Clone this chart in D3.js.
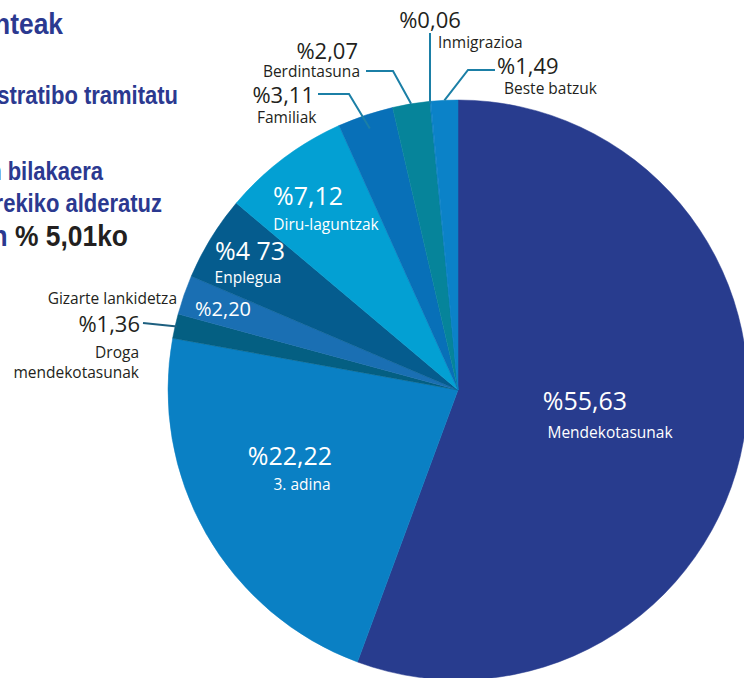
<!DOCTYPE html>
<html><head><meta charset="utf-8">
<script src="https://cdn.jsdelivr.net/npm/d3@7"></script>
<style>
body{margin:0;background:#fff;}
svg{display:block;}
</style></head>
<body>
<svg id="chart" width="744" height="678"></svg>
<script>
// ---- data ----
const categories = ["Mendekotasunak","3. adina","Droga mendekotasunak","Gizarte lankidetza","Enplegua","Diru-laguntzak","Familiak","Berdintasuna","Inmigrazioa","Beste batzuk"];
const values = [55.63,22.22,1.36,2.20,4.73,7.12,3.11,2.07,0.06,1.49];
const valueLabels = ["%55,63","%22,22","%1,36","%2,20","%4 73","%7,12","%3,11","%2,07","%0,06","%1,49"];
const colors = ["#283c8e","#0a80c4","#045f82","#1a6fb3","#055c8e","#03a0d3","#0870b8","#06849a","#0b7cc0","#0b82c8"];
const titleLines = ["nteak","stratibo tramitatu","n bilakaera","rekiko alderatuz","% 5,01ko"];

// ---- layout ----
const W=744,H=678, cx=458, cy=390, R=290;
const svg=d3.select("#chart");
const g=svg.append("g").attr("transform",`translate(${cx},${cy})`);
const data=categories.map((c,i)=>({cat:c,value:values[i],label:valueLabels[i],color:colors[i]}));
const pie=d3.pie().value(d=>d.value).sort(null).startAngle(0).endAngle(2*Math.PI);
const arcs=pie(data);
const arc=d3.arc().innerRadius(0).outerRadius(R);
g.selectAll("path.slice").data(arcs).join("path").attr("class","slice")
 .attr("d",arc).attr("fill",d=>d.data.color).attr("stroke",d=>d.data.color).attr("stroke-width",0.5);

const ff="'Open Sans','Noto Sans',sans-serif";
// inside labels: [index, pctX, pctY, pctSize, nameX, nameY, nameSize]
const inside=[
 [0,585,410,25,610,438,15.5],
 [1,290,465,25,302,490,15.5],
 [5,308,205,25,326,230,15.5],
 [4,250,260,25,248,283,15.5],
 [3,223,316,20,null,null,null]
];
inside.forEach(([i,px,py,ps,nx,ny,ns])=>{
  svg.append("text").attr("x",px).attr("y",py).attr("text-anchor","middle")
   .attr("font-family",ff).attr("font-size",ps).attr("fill","#fff").text(valueLabels[i]);
  if(nx!==null) svg.append("text").attr("x",nx).attr("y",ny).attr("text-anchor","middle")
   .attr("font-family",ff).attr("font-size",ns).attr("fill","#fff").text(categories[i]);
});

// outside labels with leaders
function arcPoint(i,r){const a=(arcs[i].startAngle+arcs[i].endAngle)/2;return [cx+r*Math.sin(a),cy-r*Math.cos(a)];}
const lineCol="#1b7fa6";
const outside=[
 {i:2,pts:[[143,323]],r:288,col:"#1d5f7f",pct:[140,332,"end",22],names:[[177,304,"end","Gizarte lankidetza"],[139,358,"end","Droga"],[139,378,"end","mendekotasunak"]]},
 {i:6,pts:[[318,94],[349,94]],r:276,col:lineCol,pct:[314,103,"end",22],names:[[257,123,"start","Familiak"]]},
 {i:7,pts:[[366,71],[393,71]],r:290,col:lineCol,pct:[358,59,"end",22],names:[[360,77,"end","Berdintasuna"]]},
 {i:8,pts:[[430,33]],r:288,col:lineCol,pct:[430,28,"middle",22],names:[[438,48,"start","Inmigrazioa"]]},
 {i:9,pts:[[495,70],[468,70]],r:290,col:lineCol,pct:[497,74,"start",22],names:[[504,94,"start","Beste batzuk"]]}
];
outside.forEach(o=>{
  const p=arcPoint(o.i,o.r);
  const ptsAll=o.pts.concat([p]);
  if(o.i===8){ptsAll[1]=[o.pts[0][0],p[1]];}
  svg.append("path").attr("d",d3.line()(ptsAll)).attr("fill","none").attr("stroke",o.col).attr("stroke-width",2);
  svg.append("text").attr("x",o.pct[0]).attr("y",o.pct[1]).attr("text-anchor",o.pct[2])
   .attr("font-family",ff).attr("font-size",o.pct[3]).attr("fill","#231f20").text(valueLabels[o.i]);
  o.names.forEach(n=>svg.append("text").attr("x",n[0]).attr("y",n[1]).attr("text-anchor",n[2])
   .attr("font-family",ff).attr("font-size",15.5).attr("fill","#231f20").text(n[3]));
});

// title (cropped on left)
const tf="'Liberation Sans','Arial',sans-serif";
const blue="#2b3990", sx=0.88;
function title(x,y,size){
  return svg.append("text").attr("transform",`scale(${sx},1)`).attr("x",x/sx).attr("y",y)
   .attr("text-anchor","end").attr("font-family",tf).attr("font-weight","bold").attr("font-size",size);
}
title(63,34,30).attr("fill",blue).text(titleLines[0]);
title(178,104,25).attr("fill",blue).text(titleLines[1]);
title(103,180,25).attr("fill",blue).text(titleLines[2]);
title(162,212,25).attr("fill",blue).text(titleLines[3]);
const t5=title(128,246,30);
t5.append("tspan").attr("fill",blue).text("n ");
t5.append("tspan").attr("fill","#231f20").text(titleLines[4]);
</script>
</body></html>
